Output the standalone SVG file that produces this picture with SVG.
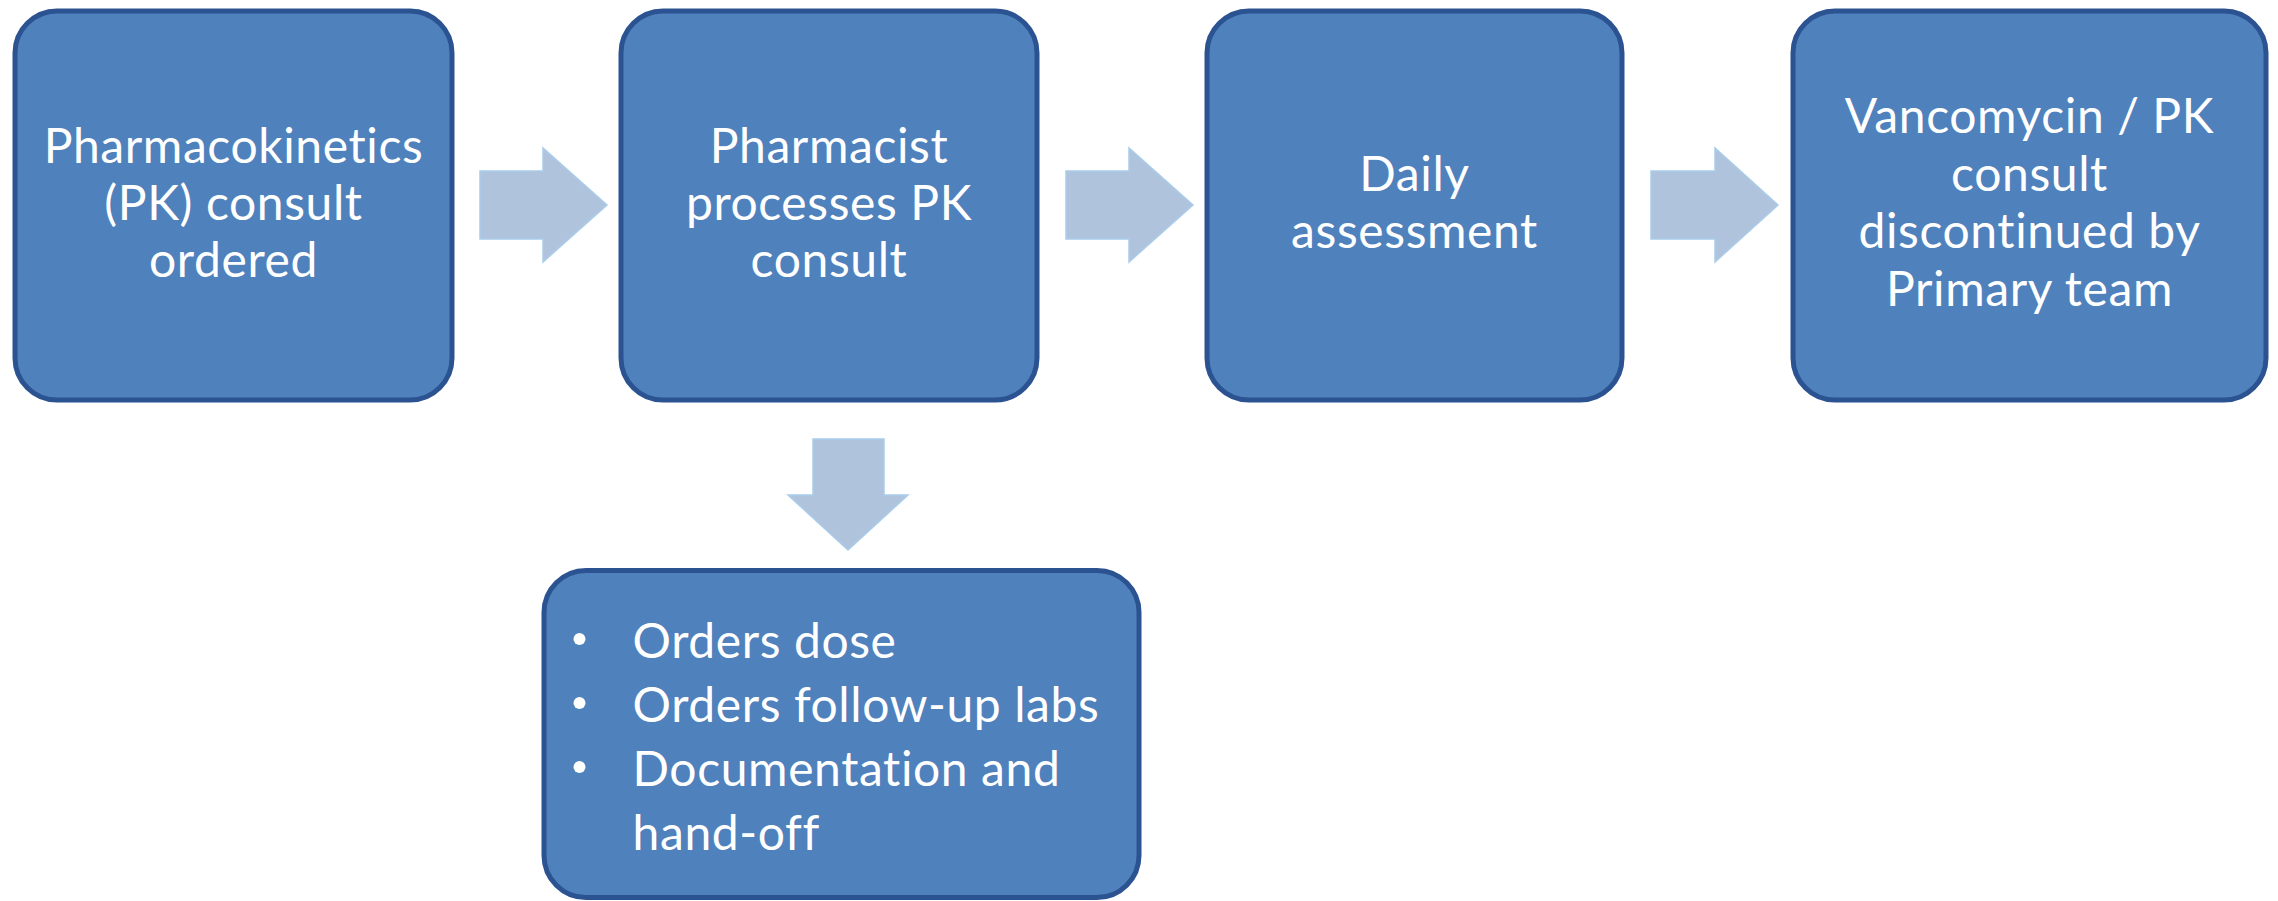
<svg xmlns="http://www.w3.org/2000/svg" width="2278" height="901" viewBox="0 0 2278 901">
  <defs>
    <style>
      .box { fill: #4F81BD; stroke: #2C5391; stroke-width: 5; }
      .arrow { fill: #B0C3DD; stroke: #A9CDEA; stroke-width: 1.5; stroke-linejoin: miter; }
      .label { font-family: "Lato", "Liberation Sans", sans-serif; font-size: 48px; letter-spacing: 0.6px; fill: #FFFFFF; text-anchor: middle; }
      .item { font-family: "Lato", "Liberation Sans", sans-serif; font-size: 48px; letter-spacing: 0.6px; fill: #FFFFFF; }
    </style>
  </defs>
  <rect width="2278" height="901" fill="#FFFFFF"/>

  <!-- Connectors: block arrows between steps -->
  <g id="connectors">
    <polygon class="arrow" points="480,171 543,171 543,148 607,205 543,262 543,239 480,239"/>
    <polygon class="arrow" points="1066,171 1129,171 1129,148 1193,205 1129,262 1129,239 1066,239"/>
    <polygon class="arrow" points="1651,171 1715,171 1715,148 1778,205 1715,262 1715,239 1651,239"/>
    <polygon class="arrow" points="813,439 884,439 884,495 908,495 848,550 788,495 813,495"/>
  </g>

  <g id="node-consult-ordered">
    <rect class="box" x="15" y="11" width="437" height="389" rx="42" ry="42"/>
    <text class="label" x="233.5" y="163">Pharmacokinetics</text>
    <text class="label" x="233.5" y="220">(PK) consult</text>
    <text class="label" x="233.5" y="277">ordered</text>
  </g>

  <g id="node-pharmacist-processes">
    <rect class="box" x="621" y="11" width="416" height="389" rx="42" ry="42"/>
    <text class="label" x="829" y="163">Pharmacist</text>
    <text class="label" x="829" y="220">processes PK</text>
    <text class="label" x="829" y="277">consult</text>
  </g>

  <g id="node-daily-assessment">
    <rect class="box" x="1207" y="11" width="415" height="389" rx="42" ry="42"/>
    <text class="label" x="1414.5" y="191">Daily</text>
    <text class="label" x="1414.5" y="248">assessment</text>
  </g>

  <g id="node-discontinued">
    <rect class="box" x="1793" y="11" width="473" height="389" rx="42" ry="42"/>
    <text class="label" x="2029.5" y="133">Vancomycin / PK</text>
    <text class="label" x="2029.5" y="191">consult</text>
    <text class="label" x="2029.5" y="248">discontinued by</text>
    <text class="label" x="2029.5" y="306">Primary team</text>
  </g>

  <g id="node-pharmacist-tasks">
    <rect class="box" x="544" y="570.5" width="595" height="327" rx="42" ry="42"/>
    <circle cx="579.5" cy="639" r="6" fill="#FFFFFF"/>
    <circle cx="579.5" cy="703" r="6" fill="#FFFFFF"/>
    <circle cx="579.5" cy="767" r="6" fill="#FFFFFF"/>
    <text class="item" x="632.6" y="658">Orders dose</text>
    <text class="item" x="632.6" y="722">Orders follow-up labs</text>
    <text class="item" x="632.6" y="786">Documentation and</text>
    <text class="item" x="632.6" y="850">hand-off</text>
  </g>
</svg>
